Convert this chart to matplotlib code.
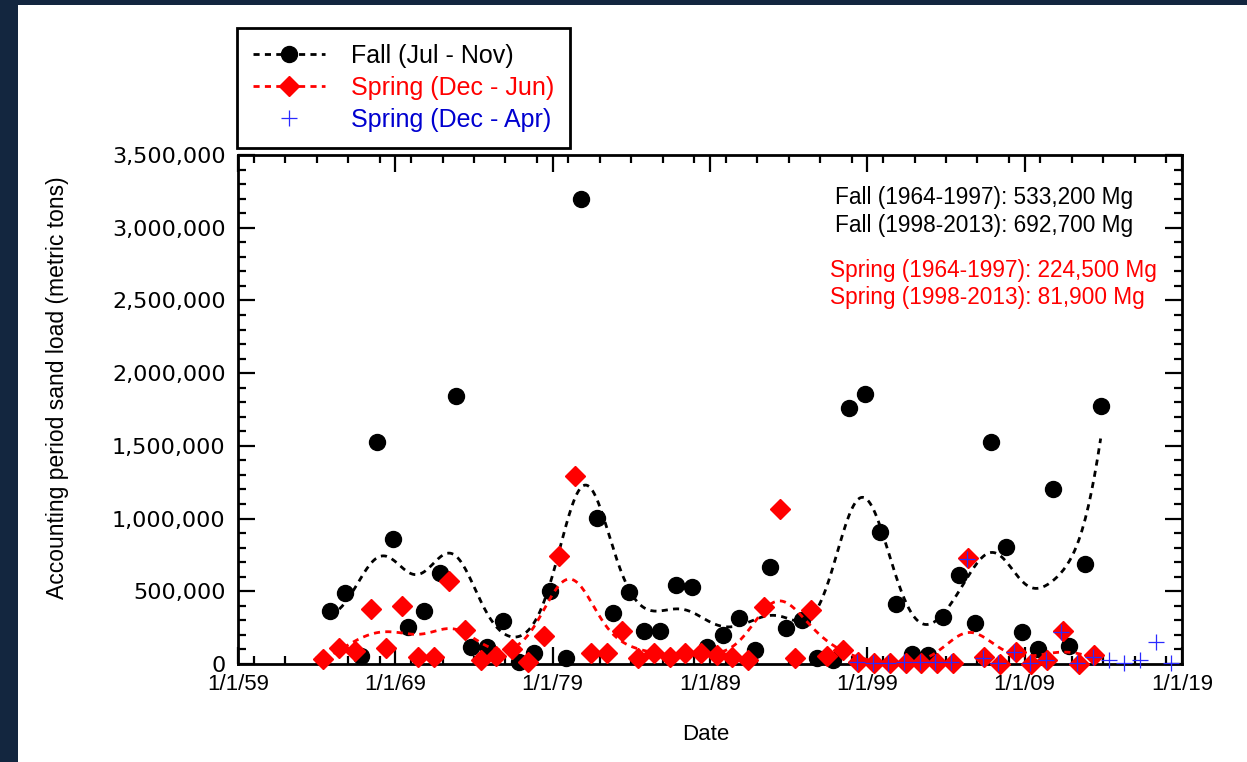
import numpy as np
import matplotlib
matplotlib.use("Agg")
import matplotlib.pyplot as plt
from matplotlib.lines import Line2D
from matplotlib.patches import Rectangle
from matplotlib.ticker import FixedLocator, MultipleLocator, FuncFormatter

# Accounting period sand loads (metric tons), one value per year.
fall_years = list(range(1964, 2014))
fall_load = [
    367000, 486000, 57000, 1527000, 858000, 257000, 367000, 624000, 1843000, 119000,
    119000, 296000, 16000, 78000, 504000, 39000, 3198000, 1002000, 349000, 497000,
    229000, 229000, 543000, 532000, 119000, 199000, 314000, 96000, 669000, 246000,
    303000, 39000, 28000, 1763000, 1855000, 906000, 416000, 69000, 62000, 321000,
    612000, 280000, 1529000, 807000, 218000, 101000, 1204000, 124000, 688000, 1775000,
]
spring_years = list(range(1964, 2014))
spring_load = [
    34000, 108000, 91000, 376000, 108000, 399000, 50000, 50000, 573000, 234000,
    28000, 55000, 101000, 16000, 193000, 743000, 1293000, 78000, 73000, 229000,
    39000, 78000, 46000, 78000, 73000, 62000, 46000, 28000, 394000, 1066000,
    39000, 371000, 55000, 96000, 16000, 9000, 5000, 5000, 5000, 5000,
    5000, 730000, 50000, 2000, 85000, 2000, 30000, 225000, 2000, 60000,
]
spring_apr_years = list(range(1998, 2019))
spring_apr_load = [
    14000, 10000, 5000, 12000, 12000, 12000, 12000, 725000, 42000, 4000,
    80000, 4000, 28000, 222000, 4000, 46000, 28000, 9000, 28000, 153000, 9000,
]

# season mid-points (fraction of year) used to place each accounting period
fall_offset = 0.83
spring_offset = 0.43
spring_apr_offset = 0.33

date_ticks = [1959, 1969, 1979, 1989, 1999, 2009, 2019]
date_labels = ["1/1/59", "1/1/69", "1/1/79", "1/1/89", "1/1/99", "1/1/09", "1/1/19"]

stats_fall = ["Fall (1964-1997): 533,200 Mg", "Fall (1998-2013): 692,700 Mg"]
stats_spring = ["Spring (1964-1997): 224,500 Mg", "Spring (1998-2013): 81,900 Mg"]


def local_linear(x, y, sigma, n=500):
    """Gaussian-weighted local linear smoother evaluated over the data range."""
    x = np.asarray(x, dtype=float)
    y = np.asarray(y, dtype=float)
    grid = np.linspace(x.min(), x.max(), n)
    out = np.empty_like(grid)
    for i, g in enumerate(grid):
        w = np.exp(-0.5 * ((x - g) / sigma) ** 2)
        xm = np.sum(w * x) / w.sum()
        ym = np.sum(w * y) / w.sum()
        slope = np.sum(w * (x - xm) * (y - ym)) / np.sum(w * (x - xm) ** 2)
        out[i] = ym + slope * (g - xm)
    return grid, out


W, H = 1247, 762
fig = plt.figure(figsize=(W / 100, H / 100), dpi=100, facecolor="#13263f")
fig.add_artist(Rectangle((18 / W, 0), 1, 1 - 5 / H, transform=fig.transFigure,
                         facecolor="white", edgecolor="none", zorder=-10))

ax = fig.add_axes([238 / W, 98 / H, 944 / W, 509 / H])
ax.set_facecolor("white")

fall_x = np.array(fall_years) + fall_offset
spring_x = np.array(spring_years) + spring_offset
apr_x = np.array(spring_apr_years) + spring_apr_offset

dash = (0, (2.2, 1.9))
gx, gy = local_linear(fall_x, fall_load, 1.45)
ax.plot(gx, gy, color="black", lw=2.0, ls=dash, zorder=3)
ax.plot(fall_x, fall_load, ls="none", marker="o", ms=11.5, color="black",
        clip_on=False, zorder=4)

sx, sy = local_linear(spring_x, spring_load, 1.45)
ax.plot(sx, sy, color="red", lw=2.0, ls=dash, zorder=5)
ax.plot(spring_x, spring_load, ls="none", marker="D", ms=10, color="red",
        clip_on=False, zorder=6)

ax.plot(apr_x, spring_apr_load, ls="none", marker="+", ms=12, mew=0.9,
        color="#2a2aff", clip_on=False, zorder=7)

ax.set_xlim(1959, 2019)
ax.set_ylim(0, 3500000)
ax.xaxis.set_major_locator(FixedLocator(date_ticks))
ax.xaxis.set_minor_locator(MultipleLocator(2))
ax.set_xticklabels(date_labels, family="Liberation Sans", fontsize=16)
ax.yaxis.set_major_locator(MultipleLocator(500000))
ax.yaxis.set_minor_locator(MultipleLocator(100000))
ax.yaxis.set_major_formatter(FuncFormatter(lambda v, p: f"{v:,.0f}"))
for lab in ax.get_yticklabels():
    lab.set_family("DejaVu Sans")
    lab.set_fontsize(16)

ax.tick_params(which="both", direction="in", top=True, right=True, width=1.6, color="black")
ax.tick_params(which="major", length=12)
ax.tick_params(which="minor", length=6)
ax.tick_params(axis="y", which="major", pad=9, labelsize=16)
ax.tick_params(axis="x", which="major", pad=7)
for spine in ax.spines.values():
    spine.set_linewidth(2)

for i, text in enumerate(stats_fall):
    ax.text(0.632, 0.917 - i * 0.055, text, transform=ax.transAxes, fontsize=16.3,
            family="Liberation Sans", color="black", va="center", ha="left")
for i, text in enumerate(stats_spring):
    ax.text(0.627, 0.774 - i * 0.053, text, transform=ax.transAxes, fontsize=16.3,
            family="Liberation Sans", color="red", va="center", ha="left")

fig.text(58 / W, 1 - 388 / H, "Accounting period sand load (metric tons)", rotation=90,
         fontsize=16.5, family="Liberation Sans", ha="center", va="center")
fig.text(706 / W, 1 - 735 / H, "Date", fontsize=16, family="Liberation Sans",
         ha="center", va="center")

handles = [
    Line2D([], [], color="black", lw=2.0, ls=dash, marker="o", ms=11.5),
    Line2D([], [], color="red", lw=2.0, ls=dash, marker="D", ms=10),
    Line2D([], [], color="#2a2aff", ls="none", marker="+", ms=12, mew=0.9),
]
labels = ["Fall (Jul - Nov)", "Spring (Dec - Jun)", "Spring (Dec - Apr)"]
leg = fig.legend(handles, labels, loc="upper left", bbox_to_anchor=(237 / W, 1 - 28 / H),
                 bbox_transform=fig.transFigure, borderaxespad=0, fancybox=False,
                 framealpha=1, edgecolor="black", numpoints=1, handlelength=2.9,
                 handletextpad=1.05, labelspacing=0.33, borderpad=0.62,
                 prop={"family": "Liberation Sans", "size": 18})
leg.get_frame().set_linewidth(2)
for text, col in zip(leg.get_texts(), ["black", "red", "#0000d0"]):
    text.set_color(col)

fig.savefig("out.png", dpi=100, facecolor=fig.get_facecolor())
